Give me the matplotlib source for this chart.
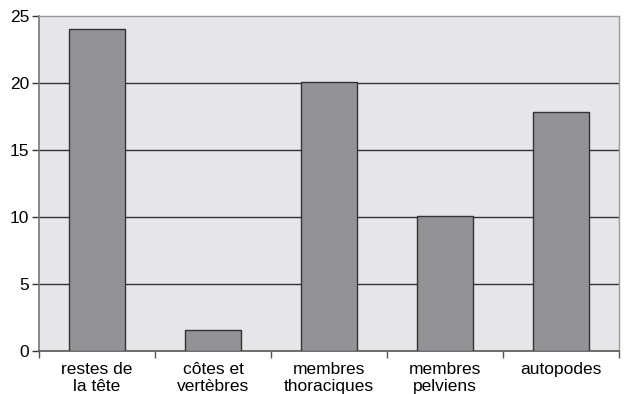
import matplotlib
matplotlib.use("Agg")
import matplotlib.pyplot as plt
import numpy as np

categories = ["restes de\nla tête", "côtes et\nvertèbres", "membres\nthoraciques", "membres\npelviens", "autopodes"]
values = [24.0, 1.6, 20.1, 10.1, 17.8]
yticks = [0, 5, 10, 15, 20, 25]

plt.rcParams['font.family'] = ['Liberation Sans', 'DejaVu Sans']

fig = plt.figure(figsize=(6.24, 3.94), dpi=100)
ax = fig.add_axes([39/624, 1-351/394, 580/624, 335/394])
ax.set_facecolor("#e6e6e8")

x = np.arange(len(categories))
ax.bar(x, values, width=0.48, color="#939396", edgecolor="#333333", linewidth=1.0, zorder=3)

ax.set_xlim(-0.5, len(categories) - 0.5)
ax.set_ylim(0, 25)
ax.set_yticks(yticks)
ax.set_yticklabels([str(v) for v in yticks], fontsize=12.5)
for v in yticks[1:-1]:
    ax.axhline(v, color="#333333", linewidth=1.0, zorder=1)

ax.set_xticks(x)
ax.set_xticklabels(categories, fontsize=12.5, linespacing=1.15)
ax.tick_params(axis='x', which='major', length=0, pad=8)
ax.set_xticks(np.arange(-0.5, len(categories)), minor=True)
ax.tick_params(axis='x', which='minor', length=5, color="#555555", width=1)
ax.tick_params(axis='y', length=5, color="#333333", width=1, pad=2)

for s in ["top", "right"]:
    ax.spines[s].set_color("#999999")
    ax.spines[s].set_linewidth(1.0)
ax.spines["left"].set_color("#777777")
ax.spines["bottom"].set_color("#555555")
ax.spines["left"].set_linewidth(1.2)
ax.spines["bottom"].set_linewidth(1.2)

fig.savefig("out.png", dpi=100)
